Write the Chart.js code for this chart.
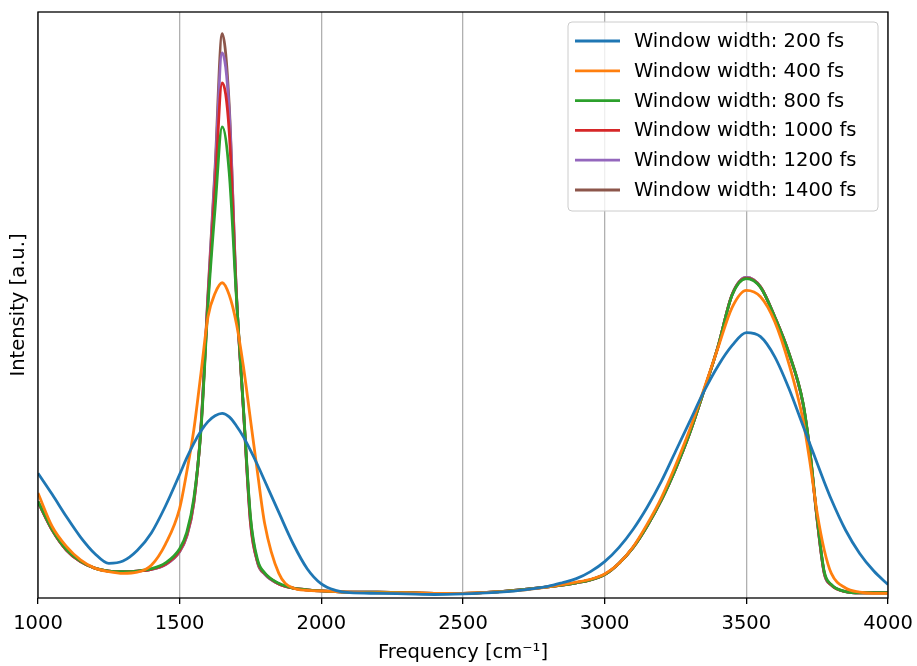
<!DOCTYPE html>
<html>
<head>
<meta charset="utf-8">
<script src="https://cdn.jsdelivr.net/npm/chart.js@4"></script>
<style>
  html, body { margin: 0; padding: 0; background: #fff; }
  #wrap { width: 917px; height: 666px; }
</style>
</head>
<body>
<div id="wrap"><canvas id="spec" width="917" height="666"></canvas></div>
<script>
// frequency grid (cm^-1), denser around the narrow band near 1650
const freq = [1000,1050,1100,1150,1200,1250,1300,1350,1400,1450,1500,
  1525,1550,1575,1600,1625,1650,1675,1700,1725,1750,1775,1800,
  1850,1900,1950,2000,2050,2100,
  2200,2300,2400,2500,2600,2700,2800,
  2850,2900,2950,3000,3050,3100,3150,3200,3250,3300,3350,3400,3450,3500,3550,3600,3650,3700,
  3725,3750,3775,3800,3850,3900,3950,4000];

const xTicks = [1000,1500,2000,2500,3000,3500,4000];

const labels = ["Window width: 200 fs","Window width: 400 fs","Window width: 800 fs",
  "Window width: 1000 fs","Window width: 1200 fs","Window width: 1400 fs"];

const w200 = [21.3,17.7,13.9,10.4,7.6,5.9,6.3,8.1,11.1,15.7,21.1,
  23.9,26.4,28.5,30.1,31.1,31.5,30.9,29.4,27.5,25.2,22.7,20.0,
  14.6,9.3,5.0,2.4,1.3,0.9,
  0.8,0.7,0.6,0.7,0.9,1.3,2.0,
  2.6,3.3,4.5,6.2,8.6,11.7,15.5,19.9,25.0,30.1,35.2,39.6,43.1,45.3,44.6,41.2,35.8,29.4,
  26.2,23.0,19.8,16.8,11.6,7.6,4.6,2.3];

const w400 = [17.9,12.2,8.8,6.5,5.1,4.5,4.2,4.4,5.6,9.2,15.3,
  21.5,28.7,38.3,48.0,52.0,53.8,51.7,46.9,39.5,30.4,21.3,12.7,
  4.2,1.7,1.3,1.2,1.1,1.0,
  0.9,0.9,0.8,0.8,1.0,1.3,1.9,
  2.3,2.7,3.2,4.1,5.9,8.7,12.6,17.1,22.6,28.7,35.6,42.7,49.6,52.5,51.4,47.2,40.0,30.4,
  23.0,14.5,8.2,4.2,1.7,1.0,0.8,0.8];

const w800 = [16.5,11.7,8.3,6.3,5.1,4.6,4.5,4.6,5.0,6.0,8.4,
  11.2,17.0,28.5,50.0,66.5,80.4,72.5,51.5,32.5,13.8,6.5,4.3,
  2.5,1.7,1.4,1.2,1.1,1.0,
  1.0,0.9,0.8,0.8,1.0,1.4,1.9,
  2.2,2.6,3.1,4.0,5.9,8.6,12.3,16.7,22.0,28.1,35.3,42.9,51.7,54.5,53.0,48.0,41.8,33.3,
  24.9,13.6,4.5,2.3,1.1,0.9,0.9,0.9];

const w1000 = [16.4,11.6,8.2,6.2,5.1,4.6,4.5,4.6,4.9,5.8,8.1,
  10.8,16.5,28.8,51.0,70.0,87.9,79.5,52.0,32.3,12.9,6.2,4.2,
  2.4,1.7,1.4,1.2,1.1,1.0,
  1.0,0.9,0.8,0.8,1.0,1.4,1.9,
  2.2,2.6,3.1,4.0,5.9,8.6,12.3,16.7,22.0,28.1,35.3,42.9,51.8,54.6,53.1,48.0,41.8,33.2,
  24.8,13.4,4.3,2.2,1.1,0.9,0.9,0.9];

const w1200 = [16.4,11.6,8.2,6.2,5.1,4.6,4.5,4.6,4.9,5.7,8.0,
  10.6,16.3,29.0,51.5,72.5,93.0,83.0,52.3,32.2,12.7,6.1,4.1,
  2.4,1.7,1.4,1.2,1.1,1.0,
  1.0,0.9,0.8,0.8,1.0,1.4,1.9,
  2.2,2.6,3.1,4.0,5.9,8.6,12.3,16.7,22.0,28.1,35.3,42.9,51.8,54.7,53.1,48.0,41.8,33.2,
  24.7,13.3,4.2,2.2,1.1,0.9,0.9,0.9];

const w1400 = [16.4,11.6,8.2,6.2,5.1,4.6,4.5,4.6,4.9,5.7,7.9,
  10.5,16.2,29.2,52.0,73.4,96.3,84.0,52.3,32.2,13.5,6.0,4.1,
  2.4,1.7,1.4,1.2,1.1,1.0,
  1.0,0.9,0.8,0.8,1.0,1.4,1.9,
  2.2,2.6,3.1,4.0,5.9,8.6,12.3,16.7,22.0,28.1,35.3,42.9,51.8,54.7,53.1,48.0,41.8,33.2,
  24.7,13.3,4.2,2.2,1.1,0.9,0.9,0.9];

const series = [w200, w400, w800, w1000, w1200, w1400];
const colors = ["#1f77b4","#ff7f0e","#2ca02c","#d62728","#9467bd","#8c564b"];

const FONT = "'DejaVu Sans', sans-serif";
Chart.defaults.font.family = FONT;
Chart.defaults.color = "#000";

// axes frame + boxed legend in the upper right corner
const framePlugin = {
  id: "frame",
  afterDraw(chart) {
    const { ctx, chartArea: a } = chart;
    ctx.save();
    ctx.strokeStyle = "#000";
    ctx.lineWidth = 1.3;
    ctx.strokeRect(a.left, a.top, a.right - a.left, a.bottom - a.top);

    const bx = 568, by = 22, bw = 310, bh = 189, r = 4;
    ctx.beginPath();
    ctx.moveTo(bx + r, by);
    ctx.arcTo(bx + bw, by, bx + bw, by + bh, r);
    ctx.arcTo(bx + bw, by + bh, bx, by + bh, r);
    ctx.arcTo(bx, by + bh, bx, by, r);
    ctx.arcTo(bx, by, bx + bw, by, r);
    ctx.closePath();
    ctx.fillStyle = "rgba(255,255,255,0.8)";
    ctx.fill();
    ctx.strokeStyle = "#cccccc";
    ctx.lineWidth = 1;
    ctx.stroke();

    ctx.font = "19.5px " + FONT;
    ctx.textBaseline = "middle";
    chart.data.datasets.forEach((ds, i) => {
      const y = 41 + i * 29.8;
      ctx.strokeStyle = ds.borderColor;
      ctx.lineWidth = 2.8;
      ctx.beginPath();
      ctx.moveTo(575, y);
      ctx.lineTo(620, y);
      ctx.stroke();
      ctx.fillStyle = "#000";
      ctx.fillText(ds.label, 634, y + 1);
    });
    ctx.restore();
  }
};

new Chart(document.getElementById("spec"), {
  type: "line",
  data: {
    datasets: series.map((vals, i) => ({
      label: labels[i],
      data: freq.map((f, j) => ({ x: f, y: vals[j] })),
      borderColor: colors[i],
      borderWidth: 2.8,
      pointRadius: 0,
      fill: false,
      cubicInterpolationMode: "monotone"
    }))
  },
  options: {
    responsive: false,
    animation: false,
    layout: { padding: { top: 12, right: 29, left: 0, bottom: 0 } },
    plugins: { legend: { display: false }, tooltip: { enabled: false } },
    scales: {
      x: {
        type: "linear",
        min: 1000,
        max: 4000,
        afterBuildTicks: (s) => { s.ticks = xTicks.map(v => ({ value: v })); },
        afterFit: (s) => { s.height = 68; s.paddingLeft = 0; s.paddingRight = 0; },
        ticks: { font: { size: 19.5 }, padding: 8, maxRotation: 0, callback: (v) => String(v) },
        grid: { color: "#b0b0b0", lineWidth: 1.3, tickColor: "#000", tickLength: 6 },
        border: { display: false },
        title: { display: true, text: "Frequency [cm⁻¹]", font: { size: 19.5 }, padding: { top: 0, bottom: 1 } }
      },
      y: {
        min: 0,
        max: 100,
        afterFit: (s) => { s.width = 38; },
        ticks: { display: false },
        grid: { display: false },
        border: { display: false },
        title: { display: true, text: "Intensity [a.u.]", font: { size: 19.5 }, padding: { top: 7, bottom: 0 } }
      }
    }
  },
  plugins: [framePlugin]
});
</script>
</body>
</html>
